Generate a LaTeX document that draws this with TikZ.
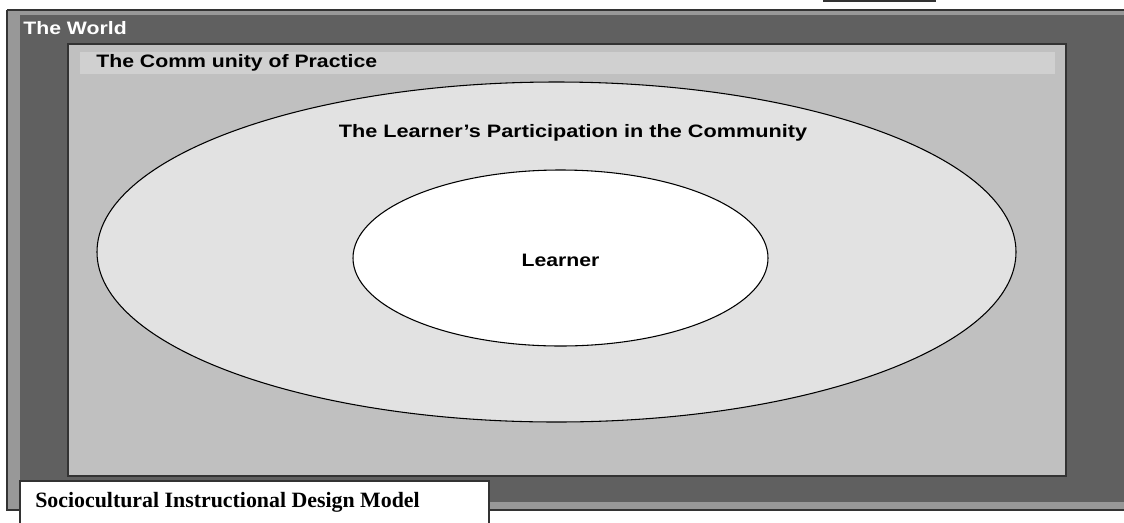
\documentclass[tikz,border=0pt]{standalone}
\usepackage{fontspec}
\setmainfont{Liberation Sans}
\newfontfamily\captionfont{Liberation Serif}
\usetikzlibrary{shapes.geometric}
\definecolor{worldgray}{RGB}{96, 96, 96}
\definecolor{bevelgray}{RGB}{152, 152, 152}
\definecolor{copgray}{RGB}{192, 192, 192}
\definecolor{bandgray}{RGB}{208, 208, 208}
\definecolor{partgray}{RGB}{226, 226, 226}
\definecolor{edgegray}{RGB}{51, 51, 51}

\begin{document}
\begin{tikzpicture}[
    x=0.75pt, y=-0.75pt,
    frame/.style={draw=edgegray, line width=1.1pt},
    lbl/.style={font=\bfseries\fontsize{13.5}{15}\selectfont, inner sep=0pt, xscale=1.18},
    oval/.style={ellipse, draw=black, line width=0.8pt, inner sep=0pt}
  ]
  \useasboundingbox (0,0) rectangle (1124,522);

  \fill[bevelgray] (7,10) rectangle (1130,510);
  \fill[worldgray] (20,15) rectangle (1130,502);
  \draw[frame] (7,10) -- (1130,10);
  \draw[frame] (7,10) -- (7,510) -- (1130,510);

  \node[frame, fill=white, minimum width=111*0.75pt, minimum height=20*0.75pt, inner sep=0pt]
    (legend) at (879.5,-9) {};

  \node[lbl, text=white, anchor=base west] (world) at (23,34) {The World};

  \node[frame, fill=copgray, minimum width=998*0.75pt, minimum height=432*0.75pt, inner sep=0pt]
    (cop) at (567,260) {};
  \fill[bandgray] (80,52) rectangle (1055,74);
  \node[lbl, anchor=base west] (coplbl) at (96,67) {The Comm unity of Practice};

  \node[oval, fill=partgray, minimum width=919*0.75pt, minimum height=340*0.75pt]
    (part) at (556.5,252) {};
  \node[lbl, anchor=base, xscale=1.02] (partlbl) at (573,137) {The Learner’s Participation in the Community};

  \node[oval, fill=white, minimum width=415*0.75pt, minimum height=176*0.75pt]
    (learner) at (560.5,258) {};
  \node[lbl, anchor=base] (learnerlbl) at (learner.center) [yshift=-6pt] {Learner};

  \node[frame, fill=white, minimum width=469*0.75pt, minimum height=60*0.75pt, inner sep=0pt]
    (caption) at (254.5,511) {};
  \node[font=\captionfont\bfseries\fontsize{16.4}{18}\selectfont, inner sep=0pt, anchor=base west]
    (captionlbl) at (35,507) {Sociocultural Instructional Design Model};

\end{tikzpicture}
\end{document}
